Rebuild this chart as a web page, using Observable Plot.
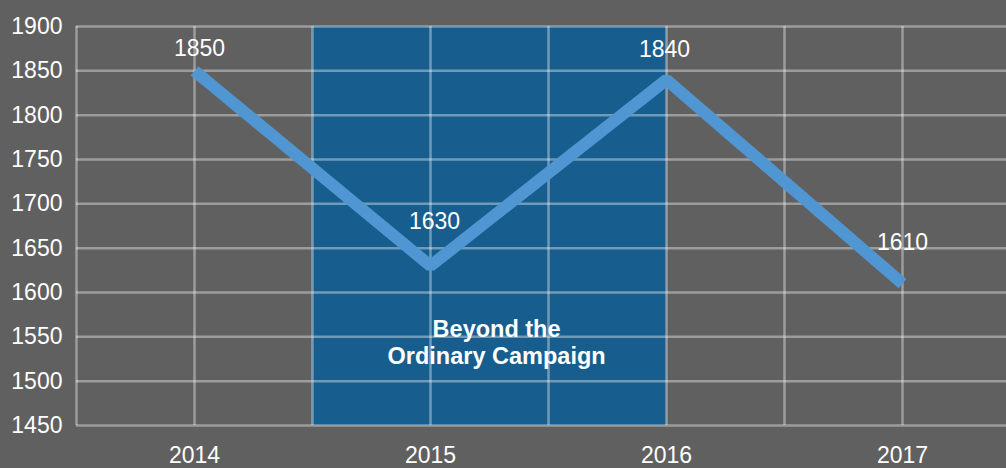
<!DOCTYPE html>
<html>
<head>
<meta charset="utf-8">
<script src="https://cdn.jsdelivr.net/npm/d3@7"></script>
<script src="https://cdn.jsdelivr.net/npm/@observablehq/plot@0.6"></script>
<style>
  html, body { margin: 0; padding: 0; background: #606060; }
  #chart { width: 1006px; height: 468px; overflow: hidden; }
</style>
</head>
<body>
<div id="chart"></div>
<script>
const years = [2014, 2015, 2016, 2017];
const values = [1850, 1630, 1840, 1610];
const yTicks = [1450, 1500, 1550, 1600, 1650, 1700, 1750, 1800, 1850, 1900];
const campaignStart = 2014.5;
const campaignEnd = 2016;
const campaignLabel = ["Beyond the", "Ordinary Campaign"];

const data = years.map((year, i) => ({year, value: values[i]}));
const labelDy = [-22, -44, -30, -41];
const labelDx = [5, 4, -2, 0];
const xGrid = d3.range(2013.5, 2017.51, 0.5);

const chart = Plot.plot({
  width: 1006,
  height: 468,
  marginTop: 26,
  marginBottom: 43,
  marginLeft: 76,
  marginRight: 0,
  style: {background: "#606060", color: "#ffffff", fontFamily: "'Liberation Sans', Arial, Helvetica, sans-serif"},
  x: {type: "linear", domain: [2013.5, 2017.5], range: [76, 1020]},
  y: {domain: [1450, 1900]},
  marks: [
    Plot.rect([{x1: campaignStart, x2: campaignEnd}], {x1: "x1", x2: "x2", y1: 1450, y2: 1900, fill: "#175e8e"}),
    Plot.ruleY(yTicks, {stroke: "#ffffff", strokeOpacity: 0.38, strokeWidth: 2.5}),
    Plot.ruleX(xGrid, {y1: 1450, y2: 1900, stroke: "#ffffff", strokeOpacity: 0.38, strokeWidth: 2.5}),
    Plot.axisY({ticks: yTicks, tickSize: 0, tickPadding: 14, fontSize: 23, tickFormat: d => String(d), label: null}),
    Plot.axisX({ticks: years, tickSize: 0, tickPadding: 21, fontSize: 23, tickFormat: d => String(d), label: null}),
    Plot.line(data, {x: "year", y: "value", stroke: "#4f96d2", strokeWidth: 12, strokeLinecap: "butt", strokeLinejoin: "miter"}),
    ...data.map((d, i) => Plot.text([d], {x: "year", y: "value", text: d => String(d.value), dy: labelDy[i], dx: labelDx[i], fill: "#ffffff", fontSize: 23})),
    Plot.text([campaignLabel.join("\n")], {x: 2015.28, y: 1544, text: d => d, fill: "#ffffff", fontSize: 23.5, fontWeight: "bold", lineHeight: 1.15})
  ]
});
document.getElementById("chart").appendChild(chart);
</script>
</body>
</html>
